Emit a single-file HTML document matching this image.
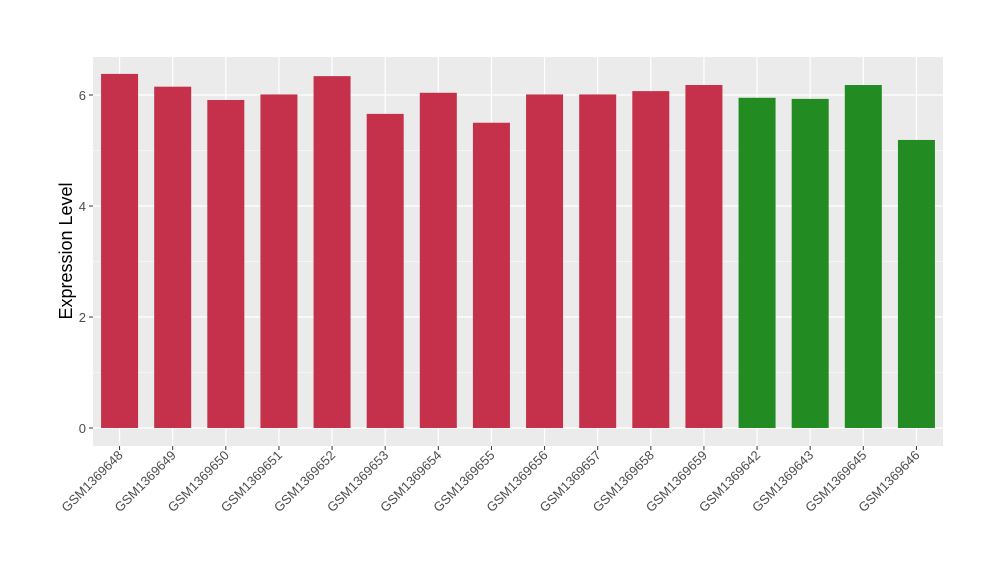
<!DOCTYPE html>
<html><head><meta charset="utf-8"><style>body{margin:0;background:#fff}svg{display:block;font-family:"Liberation Sans",sans-serif}</style></head>
<body>
<svg id="chart" width="1000" height="580" xmlns="http://www.w3.org/2000/svg"></svg>
<script>
const categories=["GSM1369648","GSM1369649","GSM1369650","GSM1369651","GSM1369652","GSM1369653","GSM1369654","GSM1369655","GSM1369656","GSM1369657","GSM1369658","GSM1369659","GSM1369642","GSM1369643","GSM1369645","GSM1369646"];
const values=[6.38,6.15,5.91,6.01,6.34,5.66,6.04,5.5,6.01,6.01,6.07,6.18,5.95,5.93,6.18,5.19];
const groups=["a","a","a","a","a","a","a","a","a","a","a","a","b","b","b","b"];
const yTicks=[0,2,4,6];
const colors={a:"#C5314A",b:"#228B22"};
const svg=document.getElementById('chart');const NS="http://www.w3.org/2000/svg";
function mk(t,a,p){const e=document.createElementNS(NS,t);for(const k in a)e.setAttribute(k,a[k]);(p||svg).appendChild(e);return e;}
const L=93,R=943,T=57,B=446;
const y=v=>428-v*55.5;
const step=(R-L)/categories.length;
const x=i=>L+step*(i+0.5);
const bw=37;
const panel=mk('rect',{x:L,y:T,width:R-L,height:B-T,fill:'#EBEBEB'});

for(let v=1;v<7;v+=2){const g=mk('line',{x1:L,x2:R,y1:y(v),y2:y(v),stroke:'#fff','stroke-width':0.6});}
yTicks.forEach(v=>{const g=mk('line',{x1:L,x2:R,y1:y(v),y2:y(v),stroke:'#fff','stroke-width':1.2});
const t=mk('line',{x1:L-4,x2:L,y1:y(v),y2:y(v),stroke:'#333'});
const l=mk('text',{x:L-7,y:y(v)+5,'text-anchor':'end','font-size':13,fill:'#4D4D4D'});l.textContent=v;});
categories.forEach((c,i)=>{const g=mk('line',{x1:x(i),x2:x(i),y1:T,y2:B,stroke:'#fff','stroke-width':1.2});});
categories.forEach((c,i)=>{const b=mk('rect',{x:x(i)-bw/2,y:y(values[i]),width:bw,height:y(0)-y(values[i]),fill:colors[groups[i]]});
const t=mk('line',{x1:x(i),x2:x(i),y1:B,y2:B+4,stroke:'#333'});
const l=mk('text',{x:x(i)+4,y:B+10,'text-anchor':'end','font-size':13,fill:'#4D4D4D',transform:`rotate(-45 ${x(i)+4} ${B+10})`});l.textContent=c;});
const yt=mk('text',{x:72,y:251,'text-anchor':'middle','font-size':18,fill:'#000',transform:'rotate(-90 72 251)'});yt.textContent='Expression Level';
</script>
</body></html>
